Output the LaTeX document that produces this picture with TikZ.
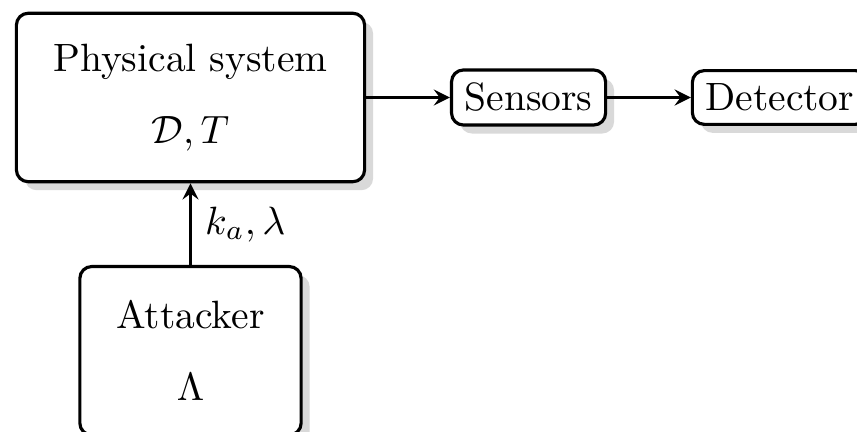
\documentclass[tikz,border=0pt]{standalone}
\usetikzlibrary{shadows}

\begin{document}
\begin{tikzpicture}[
    block/.style={draw, thick, rounded corners=3pt, fill=white,
                  drop shadow={fill=black!15, opacity=1},
                  align=center, minimum height=1.5cm},
    smallblock/.style={draw, thick, rounded corners=3pt, fill=white,
                  drop shadow={fill=black!15, opacity=1}},
    link/.style={thick, ->, >=stealth}]

      \clip (0,0) rectangle (7.63,3.846);

      % Blocs principaux
      \node[block, minimum width=3.1cm] (phys) at (1.696,2.978) {Physical system\\[6.2pt] $\mathcal{D}, T$};
      \node[block, minimum width=1.97cm, anchor=north] (att) at (1.696,1.487) {Attacker\\[6.2pt] $\Lambda$};

      % Chaine de mesure
      \node[smallblock, anchor=west] (sens) at (4.006,2.978) {Sensors};
      \node[smallblock, anchor=west] (det) at (6.15,2.978) {Detector};

      % Liaisons
      \draw[link] (phys.east) -- (sens.west);
      \draw[link] (sens.east) -- (det.west);
      \draw[link] (att.north) -- node[right] {$k_a, \lambda$} (phys.south);
    \end{tikzpicture}
\end{document}
